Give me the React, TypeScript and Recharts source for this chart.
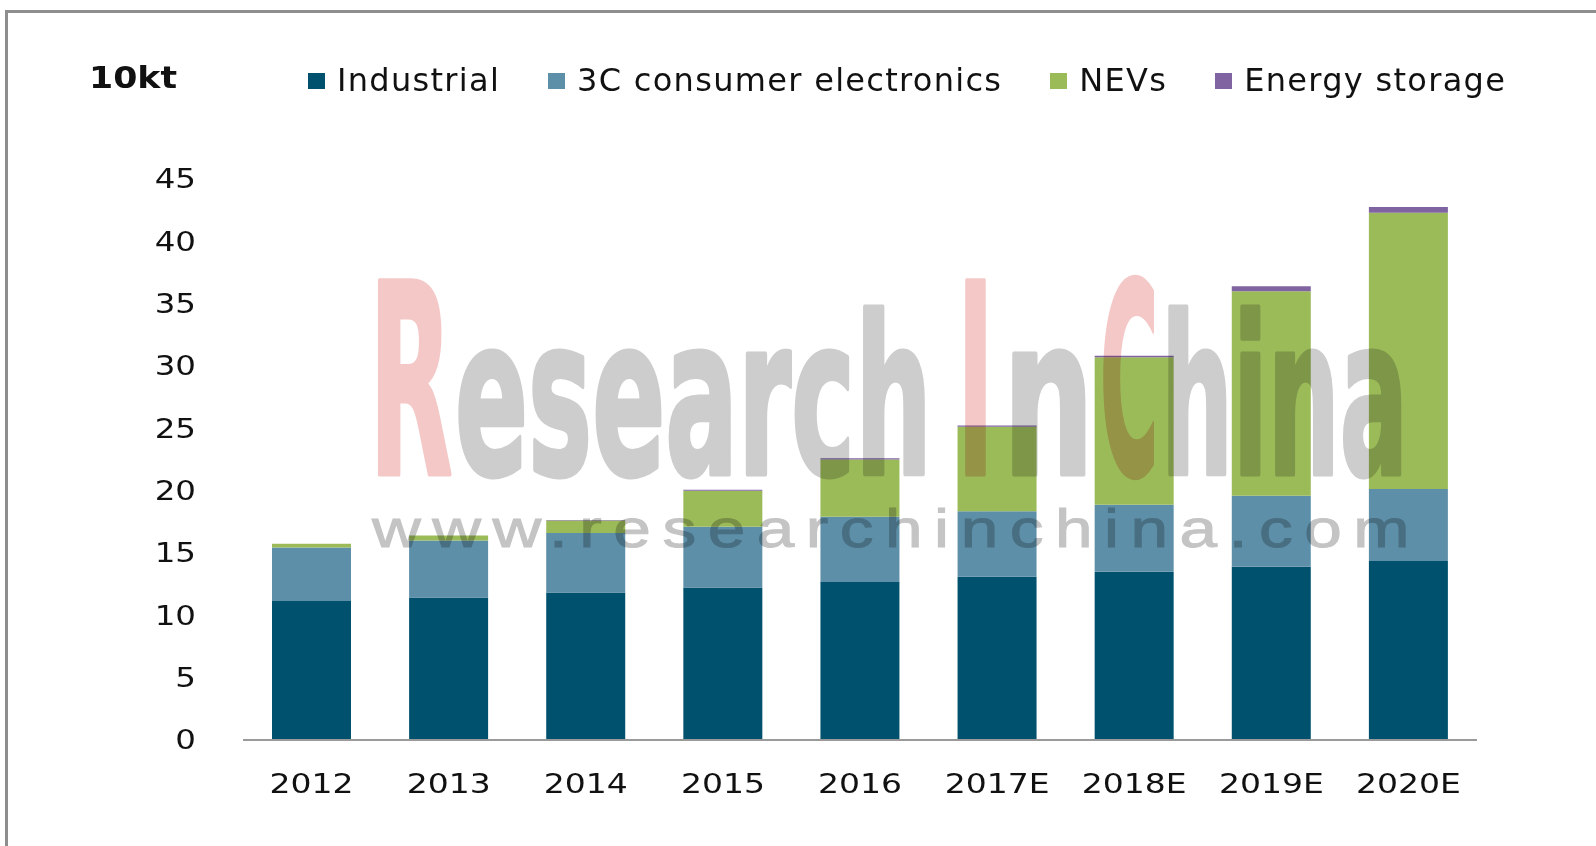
import React from "react";
import { BarChart, Bar, XAxis, YAxis } from "recharts";

const years = ["2012", "2013", "2014", "2015", "2016", "2017E", "2018E", "2019E", "2020E"];
const industrial = [11.15, 11.44, 11.84, 12.24, 12.67, 13.1, 13.5, 13.9, 14.35];
const consumer3C = [4.3, 4.56, 4.76, 4.86, 5.23, 5.24, 5.38, 5.7, 5.78];
const nevs = [0.29, 0.4, 1.0, 2.9, 4.6, 6.79, 11.82, 16.4, 22.17];
const energyStorage = [0, 0, 0.05, 0.08, 0.1, 0.1, 0.12, 0.4, 0.45];
const yTicks = [0, 5, 10, 15, 20, 25, 30, 35, 40, 45];

const seriesKeys = ["industrial", "consumer3C", "nevs", "energyStorage"];
const seriesNames = ["Industrial", "3C consumer electronics", "NEVs", "Energy storage"];
const seriesColors = ["#00516d", "#5e8fa9", "#9bbb59", "#8064a2"];

const FONT = "Verdana, 'DejaVu Sans', sans-serif";
const PINK = "#f5c8c8";
const GREY = "#cdcdcd";

const chartData = years.map((year, i) => ({
  year,
  industrial: industrial[i],
  consumer3C: consumer3C[i],
  nevs: nevs[i],
  energyStorage: energyStorage[i],
}));

const YTick = ({ x, y, payload }: any) => (
  <text
    transform={`translate(${x},${y}) scale(1.25,1)`}
    textAnchor="end"
    dy="0.36em"
    fontSize={26}
    fontFamily={FONT}
    fill="#111"
  >
    {payload.value}
  </text>
);

const XTick = ({ x, y, payload }: any) => (
  <text
    transform={`translate(${x},${y}) scale(1.27,1)`}
    textAnchor="middle"
    dy="0.71em"
    fontSize={26}
    fontFamily={FONT}
    fill="#111"
  >
    {payload.value}
  </text>
);

// watermark pieces: text, left, horizontal squeeze, colour, caps (DejaVu Sans Bold)
const markParts: [string, number, number, string, boolean][] = [
  ["R", 369, 0.41, PINK, true],
  ["esearch", 455, 0.49, GREY, false],
  ["I", 957, 0.375, PINK, true],
  ["n", 1003, 0.58, GREY, false],
  ["C", 1100, 0.3, PINK, true],
  ["hina", 1161, 0.46, GREY, false],
];

const Watermark = () => (
  <svg
    width={1596}
    height={846}
    style={{ position: "absolute", left: 0, top: 0, mixBlendMode: "multiply", pointerEvents: "none" }}
  >
    {markParts.map(([t, x, sx, c, caps]) => (
      <text
        key={t}
        transform={`translate(${x},474) scale(${sx},1)`}
        fontSize={caps ? 265 : 220}
        fontWeight="bold"
        fontFamily="'DejaVu Sans', sans-serif"
        fill={c}
        stroke={c}
        strokeWidth={5}
        strokeLinejoin="round"
      >
        {t}
      </text>
    ))}
    <text
      transform="translate(372,547) scale(1.25,1)"
      fontSize={54}
      fontFamily="'Liberation Sans', Arial, sans-serif"
      fill="#c4c4c4"
      stroke="#c4c4c4"
      strokeWidth={1}
      textLength={830}
      lengthAdjust="spacing"
    >
      www.researchinchina.com
    </text>
  </svg>
);

export default function App() {
  return (
    <div
      style={{
        position: "absolute",
        left: 0,
        top: 0,
        width: 1596,
        height: 846,
        overflow: "hidden",
        background: "#fff",
      }}
    >
      <div
        style={{
          position: "absolute",
          left: 5,
          top: 10,
          width: 1700,
          height: 1000,
          borderTop: "3px solid #8e8e8e",
          borderLeft: "3px solid #8e8e8e",
        }}
      />
      <div
        style={{
          position: "absolute",
          left: 89,
          top: 59,
          fontFamily: FONT,
          fontWeight: "bold",
          fontSize: 31,
          color: "#111",
          transform: "scaleX(1.12)",
          transformOrigin: "left",
          lineHeight: "36px",
        }}
      >
        10kt
      </div>
      <div
        style={{
          position: "absolute",
          left: 308,
          top: 62,
          display: "flex",
          alignItems: "center",
          gap: 48,
          fontFamily: FONT,
          fontSize: 32,
          lineHeight: "37px",
          letterSpacing: "1.3px",
          color: "#111",
          whiteSpace: "nowrap",
        }}
      >
        {seriesNames.map((name, i) => (
          <div key={name} style={{ display: "flex", alignItems: "center" }}>
            <span
              style={{ width: 17, height: 16, background: seriesColors[i], marginRight: 12, display: "inline-block" }}
            />
            <span>{name}</span>
          </div>
        ))}
      </div>
      <div style={{ position: "absolute", left: 0, top: 0 }}>
        <BarChart
          width={1596}
          height={846}
          data={chartData}
          margin={{ top: 179, right: 119, bottom: 46, left: 183 }}
        >
          <XAxis
            dataKey="year"
            height={60}
            tickLine={false}
            tickSize={0}
            tickMargin={35}
            axisLine={{ stroke: "#9a9a9a", strokeWidth: 2 }}
            tick={<XTick />}
            interval={0}
          />
          <YAxis
            width={60}
            domain={[0, 45]}
            ticks={yTicks}
            axisLine={false}
            tickLine={false}
            tickSize={0}
            tickMargin={47}
            tick={<YTick />}
            interval={0}
          />
          {seriesKeys.map((key, i) => (
            <Bar
              key={key}
              dataKey={key}
              name={seriesNames[i]}
              stackId="a"
              fill={seriesColors[i]}
              barSize={79}
              isAnimationActive={false}
            />
          ))}
        </BarChart>
      </div>
      <Watermark />
    </div>
  );
}
